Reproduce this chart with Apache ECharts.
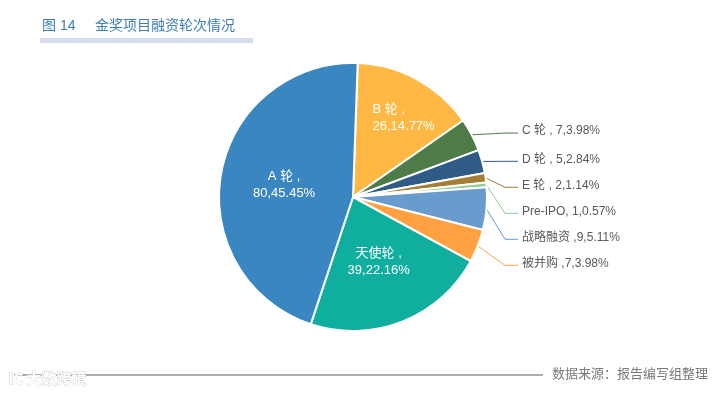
<!DOCTYPE html>
<html><head><meta charset="utf-8">
<script src="https://cdn.jsdelivr.net/npm/echarts@6/dist/echarts.min.js"></script>
<style>html,body{margin:0;padding:0;background:#fff}#c{width:722px;height:394px}</style>
</head><body><div id="c"></div>
<script>
const categories = ['B 轮', 'C 轮', 'D 轮', 'E 轮', 'Pre-IPO', '战略融资', '被并购', '天使轮', 'A 轮'];
const values = [26, 7, 5, 2, 1, 9, 7, 39, 80];
const percents = ['14.77', '3.98', '2.84', '1.14', '0.57', '5.11', '3.98', '22.16', '45.45'];
const colors = ['#FFB843', '#4E7B47', '#2F5B86', '#A67D35', '#8FCB92', '#6A9BCD', '#FFA043', '#10AE9E', '#3A86C0'];
const insideNames = ['A 轮', 'B 轮', '天使轮'];

const FONT = '"Liberation Sans", "Noto Sans CJK SC", sans-serif';
const CX = 353, CY = 197, R = 134, LEN = 8, LEN2 = 13, BEND = 18;

const data = categories.map((n, i) => {
  const item = { name: n, value: values[i], itemStyle: { color: colors[i] } };
  if (insideNames.indexOf(n) >= 0) {
    item.label = {
      position: 'inside', color: '#fff', fontSize: 13, lineHeight: 17, align: 'center',
      formatter: n + ' ,\n' + values[i] + ',' + percents[i] + '%'
    };
    if (n === 'B 轮') {
      item.label.formatter = '{a|' + n + ' ,}\n{a|' + values[i] + ',' + percents[i] + '%}';
      item.label.rich = { a: { width: 66, align: 'left', color: '#fff', fontSize: 13, lineHeight: 17, fontFamily: FONT } };
      item.label.offset = [19, -18];
    }
  } else {
    const f = (n === 'Pre-IPO') ? '{b}, {c},{p}%' : ((n === '战略融资' || n === '被并购') ? '{b} ,{c},{p}%' : '{b} , {c},{p}%');
    item.label = { formatter: f.replace('{b}', n).replace('{c}', values[i]).replace('{p}', percents[i]) };
  }
  return item;
});

const chart = echarts.init(document.getElementById('c'));
chart.setOption({
  animation: false,
  title: {
    text: '图 14     金奖项目融资轮次情况',
    left: 37, top: 14,
    textStyle: { color: '#3C7DB8', fontSize: 14, fontWeight: 'normal', fontFamily: FONT }
  },
  graphic: [
    { type: 'rect', shape: { x: 40, y: 38, width: 213, height: 5 }, style: { fill: '#D5DCEB' } },
    { type: 'line', shape: { x1: 14, y1: 375, x2: 543, y2: 375 }, style: { stroke: '#5a5a5a', lineWidth: 1 } },
    { type: 'text', left: 552, top: 367, style: { text: '数据来源：报告编写组整理', fill: '#7a7a7a', font: '13px "Noto Sans CJK SC", sans-serif' } },
    { type: 'text', left: 8, top: 370, style: { text: 'IC 大数跨境', fill: '#fff', stroke: '#d0d0d0', lineWidth: 0.8, font: 'bold 15px "Noto Sans CJK SC", sans-serif' } }
  ],
  series: [{
    type: 'pie',
    center: [CX, CY],
    radius: R,
    startAngle: 88,
    clockwise: true,
    avoidLabelOverlap: true,
    itemStyle: { borderColor: '#fff', borderWidth: 2 },
    label: {
      show: true, position: 'outside', color: '#595959', fontSize: 12, fontFamily: FONT,
      lineHeight: 24
    },
    labelLine: { show: true, length: LEN, length2: LEN2, lineStyle: { width: 1 } },
    labelLayout: function (p) {
      if (insideNames.indexOf(categories[p.dataIndex]) >= 0 || !p.labelLinePoints) return {};
      const y = p.labelRect.y + p.labelRect.height / 2;
      const bendX = CX + R + BEND;
      const pts = p.labelLinePoints;
      return {
        x: bendX + LEN2 + 4, y: y, align: 'left', verticalAlign: 'middle',
        labelLinePoints: [pts[0], [bendX, y + 2], [bendX + LEN2, y + 2]]
      };
    },
    emphasis: { disabled: true },
    data: data
  }]
});
</script></body></html>
